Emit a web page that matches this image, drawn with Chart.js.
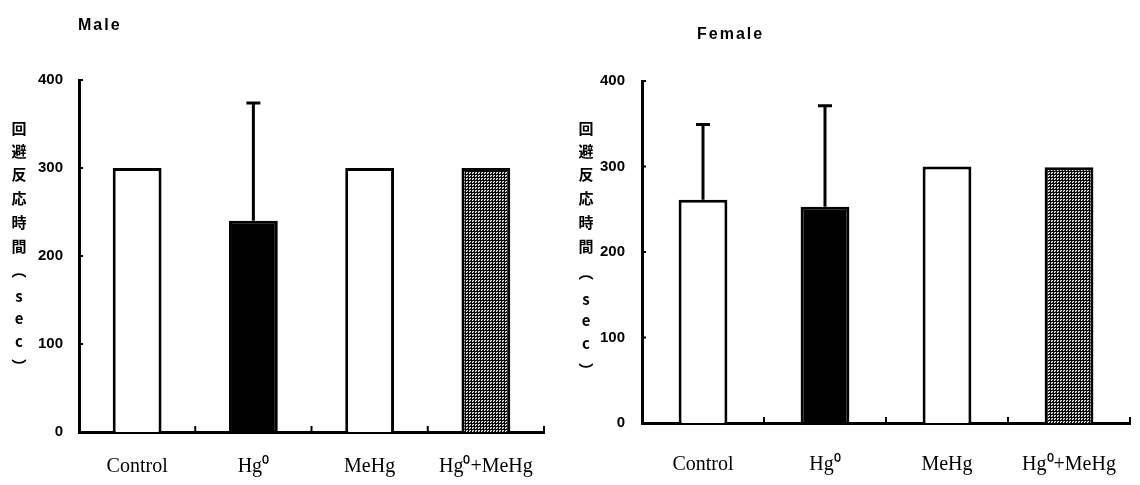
<!DOCTYPE html>
<html>
<head>
<meta charset="utf-8">
<script src="https://cdn.jsdelivr.net/npm/chart.js@4.4.0/dist/chart.umd.min.js"></script>
<style>
  html, body { margin: 0; padding: 0; background: #fff; }
  body { width: 1140px; height: 485px; position: relative; overflow: hidden; }
  .box { position: absolute; top: 0; width: 570px; height: 485px; }
  #boxL { left: 0; }
  #boxR { left: 570px; }
</style>
</head>
<body>
<div class="box" id="boxL"><canvas id="male"></canvas></div>
<div class="box" id="boxR"><canvas id="female"></canvas></div>
<script>
// ---- data ----
const categories = ['Control', 'Hg\u2070', 'MeHg', 'Hg\u2070+MeHg'];
const maleMeans = [300, 240, 300, 300];
const maleSD = [0, 134, 0, 0];
const femaleMeans = [261, 253, 300, 299];
const femaleSD = [88, 118, 0, 0];
const yTicks = [0, 100, 200, 300, 400];
const yTitleChars = ['回', '避', '反', '応', '時', '間', '\uFE35', 's', 'e', 'c', '\uFE36'];
const panelTitles = ['Male', 'Female'];

// ---- hatched fill for Hg0+MeHg ----
function makePattern() {
  const c = document.createElement('canvas');
  c.width = 3; c.height = 3;
  const g = c.getContext('2d');
  g.fillStyle = '#ffffff';
  g.fillRect(0, 0, 3, 3);
  g.fillStyle = '#000000';
  g.fillRect(0, 0, 3, 1);
  g.fillRect(0, 0, 1, 3);
  g.fillStyle = '#444444';
  g.fillRect(2, 2, 1, 1);
  g.fillStyle = '#999999';
  g.fillRect(1, 1, 1, 1);
  return g.createPattern(c, 'repeat');
}
const hatch = makePattern();
const fills = ['#ffffff', '#000000', '#ffffff', hatch];

function makeChart(id, cfg) {
  const overlay = {
    id: 'overlay_' + id,
    afterDatasetsDraw(chart) {
      const ctx = chart.ctx;
      const ys = chart.scales.y;
      const xs = chart.scales.x;
      const area = chart.chartArea;
      const meta = chart.getDatasetMeta(0);
      ctx.save();
      ctx.strokeStyle = '#000';
      ctx.lineWidth = 3;
      // error bars (upper only)
      meta.data.forEach((bar, i) => {
        const sd = cfg.sd[i];
        if (!sd) return;
        const yBase = ys.getPixelForValue(cfg.means[i]);
        const yTop = ys.getPixelForValue(cfg.means[i] + sd);
        ctx.beginPath();
        ctx.moveTo(bar.x, yBase);
        ctx.lineTo(bar.x, yTop);
        ctx.moveTo(bar.x - 7, yTop);
        ctx.lineTo(bar.x + 7, yTop);
        ctx.stroke();
      });
      // inward y tick marks
      ctx.lineWidth = 2;
      yTicks.forEach(v => {
        const py = ys.getPixelForValue(v);
        ctx.beginPath();
        ctx.moveTo(area.left, py);
        ctx.lineTo(area.left + 4, py);
        ctx.stroke();
      });
      // upward x tick marks at category boundaries
      const n = categories.length;
      for (let i = 0; i < n; i++) {
        const px = i < n - 1 ? (xs.getPixelForValue(i) + xs.getPixelForValue(i + 1)) / 2 : area.right;
        ctx.beginPath();
        ctx.moveTo(px, area.bottom);
        ctx.lineTo(px, area.bottom - 6);
        ctx.stroke();
      }
      ctx.restore();
    },
    afterDraw(chart) {
      const ctx = chart.ctx;
      ctx.save();
      ctx.fillStyle = '#000';
      // panel title
      ctx.font = 'bold 16px "Liberation Sans", Arial, sans-serif';
      ctx.textAlign = 'left';
      ctx.textBaseline = 'alphabetic';
      if ('letterSpacing' in ctx) ctx.letterSpacing = '2px';
      ctx.fillText(cfg.title, cfg.titleX, cfg.titleY);
      if ('letterSpacing' in ctx) ctx.letterSpacing = '0px';
      // vertical axis title
      ctx.font = 'bold 15px "Noto Sans CJK JP", "Liberation Sans", sans-serif';
      ctx.textAlign = 'center';
      ctx.textBaseline = 'middle';
      cfg.yTitleY.forEach((y, i) => {
        ctx.fillText(yTitleChars[i], cfg.yTitleX, y);
      });
      ctx.restore();
    }
  };

  return new Chart(document.getElementById(id), {
    type: 'bar',
    data: {
      labels: categories,
      datasets: [{
        data: cfg.means,
        backgroundColor: fills,
        borderColor: '#000',
        borderWidth: 3,
        barPercentage: cfg.barPct,
        categoryPercentage: 1.0
      }]
    },
    options: {
      responsive: false,
      animation: false,
      devicePixelRatio: 1,
      layout: { padding: { top: cfg.top, right: cfg.right, left: 0, bottom: 0 } },
      plugins: { legend: { display: false }, tooltip: { enabled: false }, title: { display: false } },
      scales: {
        x: {
          offset: true,
          grid: { display: false },
          border: { display: true, color: '#000', width: 3 },
          ticks: {
            color: '#000',
            padding: cfg.xPad,
            font: { family: '"Liberation Serif", "Times New Roman", serif', size: 20 },
            maxRotation: 0, autoSkip: false
          },
          afterFit(scale) { scale.height = cfg.xHeight; }
        },
        y: {
          min: 0, max: 400,
          afterBuildTicks(scale) { scale.ticks = yTicks.map(v => ({ value: v })); },
          grid: { display: false },
          border: { display: true, color: '#000', width: 3 },
          ticks: {
            color: '#000',
            padding: cfg.yPad,
            font: { family: '"Liberation Sans", Arial, sans-serif', size: 15, weight: 'bold' }
          },
          afterFit(scale) { scale.width = cfg.yWidth; }
        }
      }
    },
    plugins: [overlay]
  });
}

function sizeCanvas(id) {
  const c = document.getElementById(id);
  c.width = 570; c.height = 485;
  c.style.width = '570px'; c.style.height = '485px';
}
sizeCanvas('male');
sizeCanvas('female');

makeChart('male', {
  means: maleMeans, sd: maleSD, title: panelTitles[0],
  titleX: 78, titleY: 30,
  top: 80, right: 26, yWidth: 79, xHeight: 53, xPad: 15, yPad: 8, barPct: 0.42,
  yTitleX: 19,
  yTitleY: [128, 151, 174, 198, 222, 246, 270, 296, 318, 341, 366]
});
makeChart('female', {
  means: femaleMeans, sd: femaleSD, title: panelTitles[1],
  titleX: 127, titleY: 39,
  top: 81, right: 10, yWidth: 72, xHeight: 62, xPad: 22, yPad: 9, barPct: 0.40,
  yTitleX: 16,
  yTitleY: [128, 151, 174, 198, 222, 246, 272, 299, 320, 343, 370]
});
</script>
</body>
</html>
